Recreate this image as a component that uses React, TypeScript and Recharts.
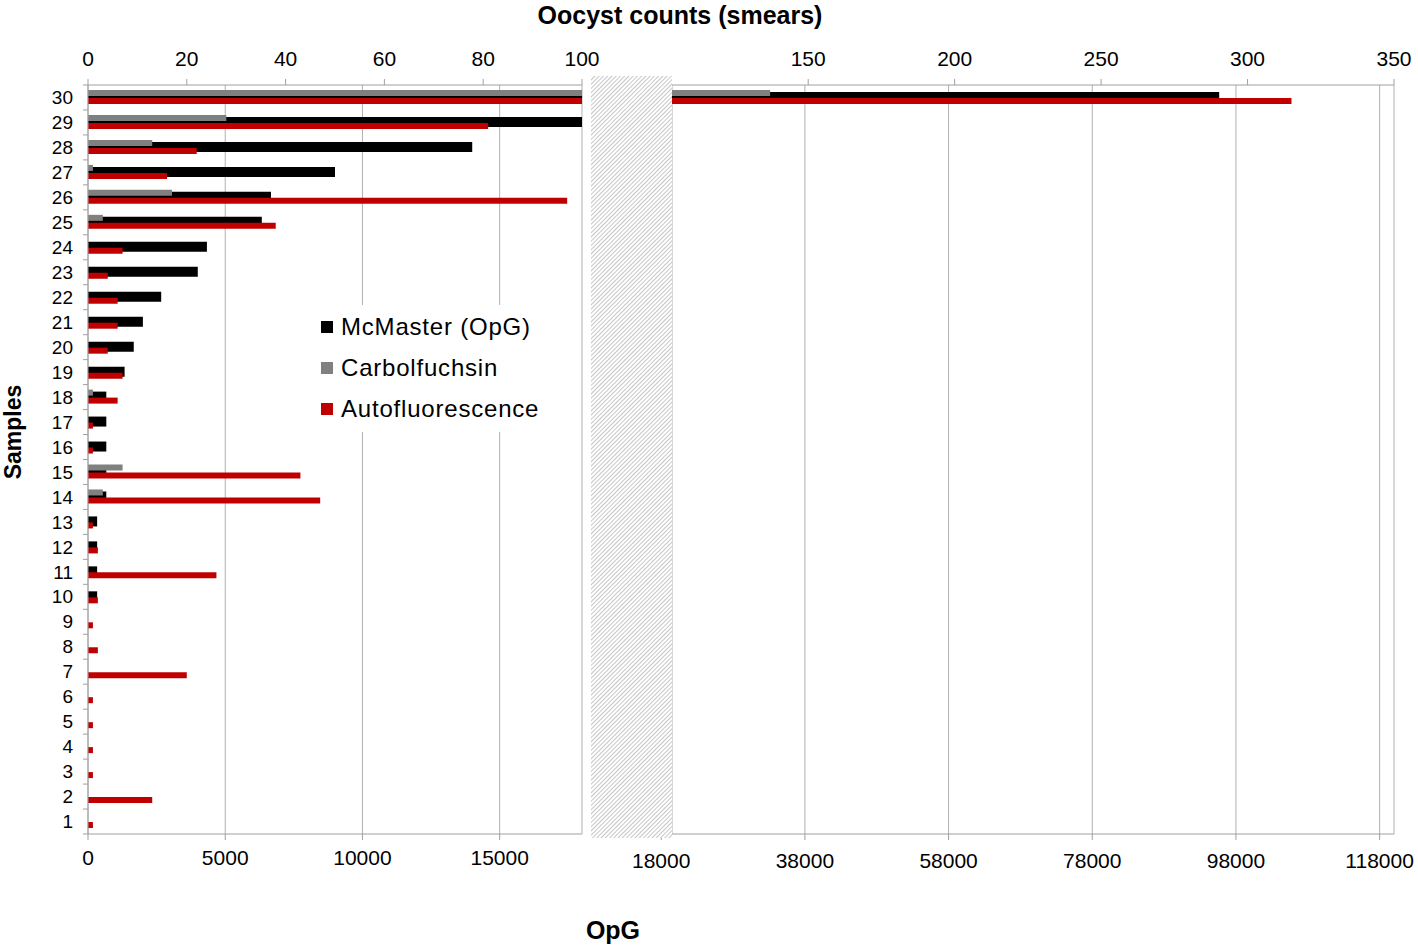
import React from "react";
import { BarChart, Bar, XAxis, YAxis, CartesianGrid } from "recharts";

// samples 1..30 (bottom to top)
const samples = [
  "1", "2", "3", "4", "5", "6", "7", "8", "9", "10",
  "11", "12", "13", "14", "15", "16", "17", "18", "19", "20",
  "21", "22", "23", "24", "25", "26", "27", "28", "29", "30",
];

// McMaster, oocysts per gram
const mcmaster = [
  0, 0, 0, 0, 0, 0, 0, 0, 0, 333,
  333, 333, 333, 667, 667, 667, 667, 667, 1333, 1667,
  2000, 2667, 4000, 4333, 6333, 6667, 9000, 14000, 18000, 95667,
];

// smear counts
const carbolfuchsin = [
  0, 0, 0, 0, 0, 0, 0, 0, 0, 0,
  0, 0, 0, 3, 7, 0, 0, 1, 0, 0,
  0, 0, 0, 0, 3, 17, 1, 13, 28, 137,
];

const autofluorescence = [
  1, 13, 1, 1, 1, 1, 20, 2, 1, 2,
  26, 2, 1, 47, 43, 1, 1, 6, 7, 4,
  6, 6, 4, 7, 38, 97, 16, 22, 81, 315,
];

const leftSmearTicks = [0, 20, 40, 60, 80, 100];
const leftOpgTicks = [0, 5000, 10000, 15000];
const rightSmearTicks = [150, 200, 250, 300, 350];
const rightOpgTicks = [18000, 38000, 58000, 78000, 98000, 118000];

const data = samples.map((s, i) => ({
  sample: s,
  mcmaster: mcmaster[i],
  carbolfuchsin: carbolfuchsin[i],
  autofluorescence: autofluorescence[i],
}));

const AXIS = "#a0a0a0";
const GRID = "#b0b0b0";
const PLOT_TOP = 85;
const PLOT_BOTTOM = 834;
const PLOT_LEFT = 88;
const BAND = (PLOT_BOTTOM - PLOT_TOP) / samples.length;

function SampleTick(props: any) {
  const { y, payload, index } = props;
  return (
    <g>
      <line x1={PLOT_LEFT - 5} x2={PLOT_LEFT} y1={y - BAND / 2} y2={y - BAND / 2} stroke={AXIS} />
      {index === 0 && (
        <line x1={PLOT_LEFT - 5} x2={PLOT_LEFT} y1={y + BAND / 2} y2={y + BAND / 2} stroke={AXIS} />
      )}
      <text x={73} y={y} dy="0.35em" textAnchor="end" fontSize={19} fill="#000">
        {payload.value}
      </text>
    </g>
  );
}

const tickStyle = { fill: "#000", fontSize: 21 };

function Panel(props: {
  width: number;
  left: number;
  right: number;
  opgDomain: number[];
  opgTicks: number[];
  opgMargin: number;
  smearDomain: number[];
  smearTicks: number[];
  showSamples: boolean;
}) {
  return (
    <BarChart
      layout="vertical"
      width={props.width}
      height={946}
      data={data}
      margin={{ top: 55, right: props.right, bottom: 72, left: props.left }}
      barGap={2}
    >
      <CartesianGrid horizontal={false} xAxisId="opg" yAxisId="a" stroke={GRID} />
      <XAxis
        xAxisId="opg"
        type="number"
        orientation="bottom"
        domain={props.opgDomain}
        ticks={props.opgTicks}
        interval={0}
        allowDataOverflow
        height={40}
        tickSize={6}
        tickMargin={props.opgMargin}
        stroke={AXIS}
        tick={tickStyle}
      />
      <XAxis
        xAxisId="smear"
        type="number"
        orientation="top"
        domain={props.smearDomain}
        ticks={props.smearTicks}
        interval={0}
        allowDataOverflow
        height={30}
        tickSize={6}
        tickMargin={13}
        stroke={AXIS}
        tick={tickStyle}
      />
      {props.showSamples ? (
        <YAxis
          yAxisId="a"
          type="category"
          dataKey="sample"
          reversed
          width={50}
          interval={0}
          tickLine={false}
          stroke={AXIS}
          tick={<SampleTick />}
        />
      ) : (
        <YAxis yAxisId="a" type="category" dataKey="sample" reversed hide />
      )}
      <YAxis yAxisId="b" type="category" dataKey="sample" reversed hide />
      <Bar dataKey="mcmaster" xAxisId="opg" yAxisId="b" barSize={10} fill="#000000" isAnimationActive={false} />
      <Bar dataKey="carbolfuchsin" xAxisId="smear" yAxisId="a" barSize={6} fill="#808080" isAnimationActive={false} />
      <Bar dataKey="autofluorescence" xAxisId="smear" yAxisId="a" barSize={6} fill="#c00000" isAnimationActive={false} />
    </BarChart>
  );
}

const legendItems = [
  { label: "McMaster (OpG)", color: "#000000" },
  { label: "Carbolfuchsin", color: "#808080" },
  { label: "Autofluorescence", color: "#c00000" },
];

export default function App() {
  return (
    <div
      style={{
        position: "absolute",
        left: 0,
        top: 0,
        width: 1418,
        height: 946,
        background: "#fff",
        fontFamily: "'Liberation Sans', Arial, sans-serif",
      }}
    >
      <div style={{ position: "absolute", left: 0, top: 0 }}>
        <Panel
          width={600}
          left={38}
          right={18}
          opgDomain={[0, 18000]}
          opgTicks={leftOpgTicks}
          opgMargin={10}
          smearDomain={[0, 100]}
          smearTicks={leftSmearTicks}
          showSamples
        />
      </div>
      <div style={{ position: "absolute", left: 600, top: 0 }}>
        <Panel
          width={818}
          left={72}
          right={24}
          opgDomain={[19500, 120000]}
          opgTicks={rightOpgTicks}
          opgMargin={13}
          smearDomain={[103.5, 350]}
          smearTicks={rightSmearTicks}
          showSamples={false}
        />
      </div>
      <svg width={1418} height={946} style={{ position: "absolute", left: 0, top: 0, pointerEvents: "none" }}>
        <defs>
          <pattern id="hatch" patternUnits="userSpaceOnUse" width={3} height={3} patternTransform="rotate(45)">
            <rect width={3} height={3} fill="#fff" />
            <line x1={0} y1={0} x2={0} y2={3} stroke="#a8a8a8" strokeWidth={1.3} />
          </pattern>
        </defs>
        <rect x={591} y={76} width={81} height={762} fill="url(#hatch)" />
        <text x={680} y={24} textAnchor="middle" fontSize={25} fontWeight="bold" fill="#000">
          Oocyst counts (smears)
        </text>
        <text x={613} y={939} textAnchor="middle" fontSize={25} fontWeight="bold" fill="#000">
          OpG
        </text>
        <text
          x={21}
          y={432}
          textAnchor="middle"
          fontSize={23}
          fontWeight="bold"
          fill="#000"
          transform="rotate(-90 21 432)"
        >
          Samples
        </text>
      </svg>
      <div
        style={{
          position: "absolute",
          left: 312,
          top: 305,
          width: 233,
          height: 127,
          background: "#fff",
        }}
      >
        {legendItems.map((item, i) => (
          <div
            key={item.label}
            style={{
              position: "absolute",
              left: 9,
              top: 8 + i * 41,
              height: 28,
              display: "flex",
              alignItems: "center",
              whiteSpace: "nowrap",
            }}
          >
            <span style={{ width: 12, height: 12, background: item.color, display: "inline-block", marginRight: 8 }} />
            <span style={{ fontSize: 24, letterSpacing: 0.8, color: "#000" }}>{item.label}</span>
          </div>
        ))}
      </div>
    </div>
  );
}
